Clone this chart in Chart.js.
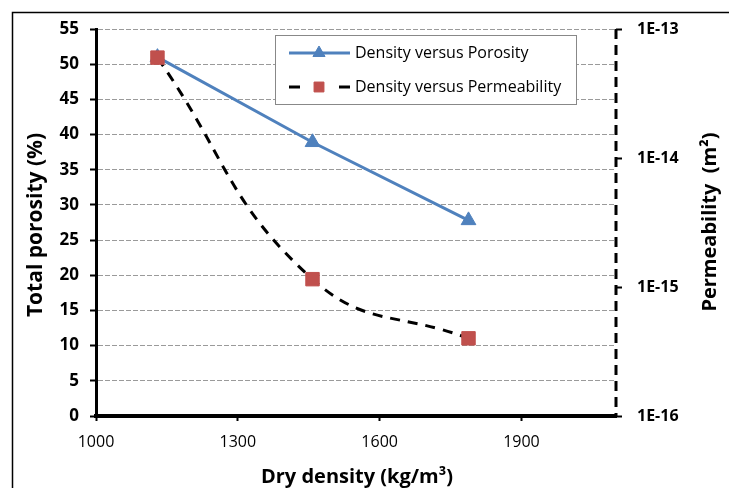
<!DOCTYPE html>
<html>
<head>
<meta charset="utf-8">
<script src="https://cdn.jsdelivr.net/npm/chart.js@4"></script>
<style>
  html, body { margin: 0; padding: 0; background: #fff; }
  canvas { display: block; }
</style>
</head>
<body>
<canvas id="chart" width="729" height="488"></canvas>
<script>
const dryDensity = [1130, 1458, 1788];
const porosity = [51, 38.9, 27.8];
const permeability = [6.0e-14, 1.15e-15, 4.0e-16];
const densityTicks = [1000, 1300, 1600, 1900];
const permeabilityTicks = [1e-13, 1e-14, 1e-15, 1e-16];
const seriesNames = ['Density versus Porosity', 'Density versus Permeability'];

const FONT = '"Open Sans", "Liberation Sans", sans-serif';
const BLUE = '#4F81BD';
const RED = '#C0504D';

// Frame, dashed right axis, axis titles and the boxed legend.
const decorations = {
    id: 'decorations',
    beforeDraw(chart) {
        const ctx = chart.ctx;
        ctx.save();
        ctx.fillStyle = '#fff';
        ctx.fillRect(0, 0, chart.width, chart.height);
        ctx.strokeStyle = '#000';
        ctx.lineWidth = 1.5;
        ctx.strokeRect(12.5, 12.5, 900, 900);
        ctx.restore();
    },
    afterDraw(chart) {
        const ctx = chart.ctx;
        const area = chart.chartArea;
        ctx.save();

        // Right axis is a dashed black line.
        ctx.strokeStyle = '#000';
        ctx.lineWidth = 3;
        ctx.setLineDash([10, 6]);
        ctx.beginPath();
        ctx.moveTo(area.right, area.top);
        ctx.lineTo(area.right, area.bottom);
        ctx.stroke();
        ctx.setLineDash([]);

        // Axis titles.
        ctx.fillStyle = '#000';
        ctx.textAlign = 'center';
        ctx.textBaseline = 'middle';
        ctx.font = `bold 20px ${FONT}`;
        ctx.fillText('Dry density (kg/m³)', 357, 477);

        ctx.save();
        ctx.translate(36, 225);
        ctx.rotate(-Math.PI / 2);
        ctx.font = `bold 21px ${FONT}`;
        ctx.fillText('Total porosity (%)', 0, 0);
        ctx.restore();

        ctx.save();
        ctx.translate(710, 222);
        ctx.rotate(-Math.PI / 2);
        ctx.font = `bold 20px ${FONT}`;
        ctx.fillText('Permeability  (m²)', 0, 0);
        ctx.restore();

        // Legend box.
        const lx = 275, ly = 35, lw = 301, lh = 69;
        ctx.fillStyle = '#fff';
        ctx.fillRect(lx, ly, lw, lh);
        ctx.strokeStyle = '#888';
        ctx.lineWidth = 1;
        ctx.strokeRect(lx + 0.5, ly + 0.5, lw, lh);

        const rows = [ly + 18, ly + 52];
        chart.data.datasets.forEach((ds, i) => {
            const y = rows[i];
            ctx.strokeStyle = ds.borderColor;
            ctx.lineWidth = ds.borderWidth;
            // dashed sample shows one dash either side of the marker
            ctx.setLineDash(ds.borderDash ? [11, 39] : []);
            ctx.beginPath();
            ctx.moveTo(lx + 14, y);
            ctx.lineTo(lx + 75, y);
            ctx.stroke();
            ctx.setLineDash([]);
            ctx.fillStyle = ds.pointBackgroundColor;
            ctx.strokeStyle = ds.pointBorderColor;
            ctx.lineWidth = 1;
            Chart.helpers.drawPoint(ctx, {
                pointStyle: ds.pointStyle,
                radius: 7,
                borderWidth: 1,
                rotation: 0
            }, lx + 44, y);
            ctx.fillStyle = '#000';
            ctx.font = `16px ${FONT}`;
            ctx.textAlign = 'left';
            ctx.textBaseline = 'middle';
            ctx.fillText(seriesNames[i], lx + 80, y);
        });

        ctx.restore();
    }
};

new Chart(document.getElementById('chart'), {
    type: 'scatter',
    data: {
        datasets: [{
            label: seriesNames[0],
            data: dryDensity.map((x, i) => ({ x, y: porosity[i] })),
            yAxisID: 'y',
            showLine: true,
            borderColor: BLUE,
            backgroundColor: BLUE,
            pointBackgroundColor: BLUE,
            pointBorderColor: BLUE,
            borderWidth: 3,
            pointStyle: 'triangle',
            pointRadius: 8.5,
            pointBorderWidth: 1,
            tension: 0,
            order: 1,
        }, {
            label: seriesNames[1],
            data: dryDensity.map((x, i) => ({ x, y: permeability[i] })),
            yAxisID: 'y2',
            showLine: true,
            borderColor: '#000',
            borderDash: [10, 8],
            borderWidth: 3,
            pointBackgroundColor: RED,
            pointBorderColor: RED,
            pointStyle: 'rect',
            pointRadius: 9.5,
            pointBorderWidth: 1,
            tension: 0.45,
            order: 0,
        }],
    },
    options: {
        responsive: false,
        animation: false,
        events: [],
        layout: { padding: { top: 29, left: 0, right: 0, bottom: 0 } },
        plugins: {
            legend: { display: false },
            tooltip: { enabled: false },
        },
        scales: {
            x: {
                type: 'linear',
                position: 'bottom',
                min: 1000,
                max: 2100,
                afterBuildTicks: scale => { scale.ticks = densityTicks.map(value => ({ value })); },
                afterFit: scale => { scale.height = 72; },
                ticks: {
                    color: '#000',
                    font: { family: FONT, size: 16 },
                    padding: 12,
                    maxRotation: 0,
                    callback: value => String(value),
                },
                grid: { drawOnChartArea: false, drawTicks: true, tickLength: 5, tickColor: '#000', tickWidth: 2 },
                border: { color: '#000', width: 4 },
            },
            y: {
                type: 'linear',
                position: 'left',
                min: 0,
                max: 55,
                ticks: { stepSize: 5, color: '#000', font: { family: FONT, size: 17, weight: 'bold' }, padding: 11 },
                afterFit: scale => { scale.width = 96; },
                grid: { color: '#9a9a9a', lineWidth: 1, tickColor: '#000', tickLength: 6, tickWidth: 2 },
                border: { color: '#000', width: 3, dash: [5, 2] },
            },
            y2: {
                type: 'logarithmic',
                position: 'right',
                min: 1e-16,
                max: 1e-13,
                afterBuildTicks: scale => { scale.ticks = permeabilityTicks.map(value => ({ value, major: true })); },
                afterFit: scale => { scale.width = 113; },
                ticks: {
                    color: '#000',
                    font: { family: FONT, size: 16, weight: 'bold' },
                    padding: 15,
                    callback: value => '1E-' + Math.round(-Math.log10(value)),
                },
                grid: { drawOnChartArea: false, drawTicks: true, tickLength: 6, tickColor: '#000', tickWidth: 2 },
                border: { display: false },
            },
        },
    },
    plugins: [decorations],
});
</script>
</body>
</html>
